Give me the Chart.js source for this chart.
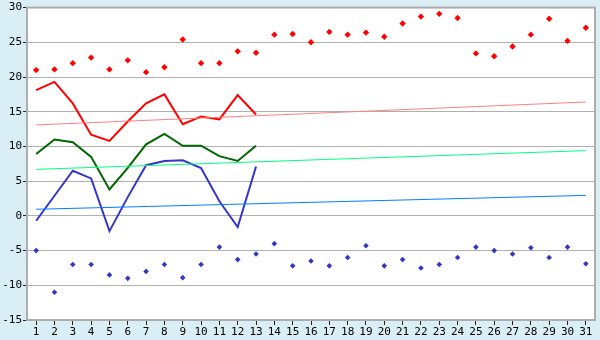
<!DOCTYPE html>
<html>
<head>
<meta charset="utf-8">
<script src="https://cdn.jsdelivr.net/npm/chart.js@4/dist/chart.umd.min.js"></script>
<style>
  html, body { margin: 0; padding: 0; background: #daeef5; }
  #wrap { width: 600px; height: 340px; }
</style>
</head>
<body>
<div id="wrap"><canvas id="tempChart" width="600" height="340"></canvas></div>
<script>
// day of month
const days = ['1','2','3','4','5','6','7','8','9','10','11','12','13','14','15','16',
    '17','18','19','20','21','22','23','24','25','26','27','28','29','30','31'];

// record highs / lows (markers)
const highPoints = [21.0, 21.1, 22.0, 22.8, 21.1, 22.4, 20.7, 21.4, 25.4, 22.0, 22.0, 23.7, 23.5, 26.1, 26.2, 25.0,
    26.5, 26.1, 26.4, 25.8, 27.7, 28.7, 29.1, 28.5, 23.4, 23.0, 24.4, 26.1, 28.4, 25.2, 27.1];
const lowPoints = [-5.0, -11.0, -7.0, -7.0, -8.5, -9.0, -8.0, -7.0, -8.9, -7.0, -4.5, -6.3, -5.5, -4.0, -7.2, -6.5,
    -7.2, -6.0, -4.3, -7.2, -6.3, -7.5, -7.0, -6.0, -4.5, -5.0, -5.5, -4.6, -6.0, -4.5, -6.9];

// current month lines
const maxLine = [18.1, 19.3, 16.2, 11.7, 10.8, 13.6, 16.2, 17.5, 13.2, 14.3, 13.9, 17.4, 14.6];
const meanLine = [8.9, 11.0, 10.6, 8.5, 3.8, 6.9, 10.3, 11.8, 10.1, 10.1, 8.6, 7.9, 10.1];
const minLine = [-0.7, 2.9, 6.5, 5.4, -2.2, 2.7, 7.3, 7.9, 8.0, 6.9, 2.1, -1.6, 7.1];

// normals: value on day 1 and day 31
const maxNormal = [13.1, 16.4];
const meanNormal = [6.7, 9.4];
const minNormal = [0.95, 2.95];

const yTicks = [-15, -10, -5, 0, 5, 10, 15, 20, 25, 30];

const firstLast = (v) => [{ x: days[0], y: v[0] }, { x: days[days.length - 1], y: v[1] }];

const frame = {
    id: 'frame',
    beforeDraw(chart) {
        const { ctx, chartArea: a } = chart;
        ctx.save();
        ctx.fillStyle = '#ffffff';
        ctx.fillRect(a.left, a.top, a.right - a.left, a.bottom - a.top);
        ctx.restore();
    },
    afterDraw(chart) {
        const { ctx, chartArea: a } = chart;
        ctx.save();
        ctx.strokeStyle = '#adadad';
        ctx.lineWidth = 2;
        ctx.strokeRect(a.left, a.top, a.right - a.left, a.bottom - a.top);
        ctx.restore();
    }
};

const ctx = document.getElementById('tempChart').getContext('2d');
const tempChart = new Chart(ctx, {
    type: 'line',
    data: {
        labels: days,
        datasets: [
            { data: firstLast(maxNormal), borderColor: '#ff8080', borderWidth: 1, pointRadius: 0 },
            { data: firstLast(meanNormal), borderColor: '#00ff80', borderWidth: 1, pointRadius: 0 },
            { data: firstLast(minNormal), borderColor: '#0080ff', borderWidth: 1, pointRadius: 0 },
            { data: maxLine, borderColor: '#ff0000', borderWidth: 2, pointRadius: 0 },
            { data: meanLine, borderColor: '#006600', borderWidth: 2, pointRadius: 0 },
            { data: minLine, borderColor: '#3535c8', borderWidth: 2, pointRadius: 0 },
            {
                data: highPoints, showLine: false, pointStyle: 'rectRot', pointRadius: 3.2,
                pointBackgroundColor: '#ff0000', pointBorderWidth: 0, borderColor: '#ff0000'
            },
            {
                data: lowPoints, showLine: false, pointStyle: 'rectRot', pointRadius: 2.8,
                pointBackgroundColor: '#3535c8', pointBorderWidth: 0, borderColor: '#3535c8'
            }
        ]
    },
    options: {
        responsive: false,
        animation: false,
        layout: { padding: { top: 5, right: 5, left: 0, bottom: 0 } },
        plugins: { legend: { display: false }, tooltip: { enabled: false } },
        scales: {
            x: {
                offset: true,
                grid: { display: true, drawOnChartArea: false, drawTicks: true, tickLength: 5, color: '#222' },
                border: { color: '#adadad' },
                ticks: { color: '#000', font: { family: 'DejaVu Sans Mono', size: 11 }, padding: 1, maxRotation: 0, autoSkip: false },
                afterFit: (s) => { s.height = 20; }
            },
            y: {
                min: -15,
                max: 30,
                afterBuildTicks: (s) => { s.ticks = yTicks.map(v => ({ value: v })); },
                grid: { color: '#b0b0b0', tickLength: 4, tickColor: '#222' },
                border: { color: '#adadad' },
                ticks: { color: '#000', font: { family: 'DejaVu Sans Mono', size: 11 }, padding: 1 },
                afterFit: (s) => { s.width = 27; }
            }
        }
    },
    plugins: [frame]
});
</script>
</body>
</html>
